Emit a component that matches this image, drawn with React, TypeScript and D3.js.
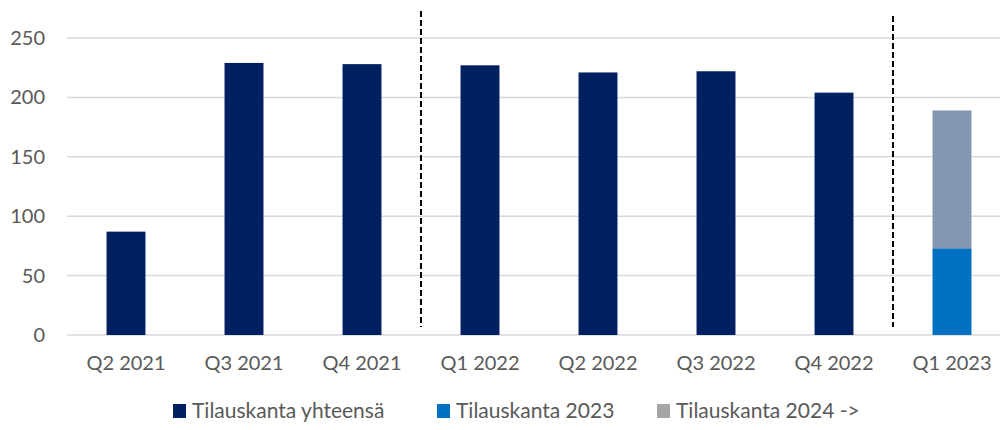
import React from "react";
import * as d3 from "d3";

const categories = ["Q2 2021", "Q3 2021", "Q4 2021", "Q1 2022", "Q2 2022", "Q3 2022", "Q4 2022", "Q1 2023"];
const totalValues = [87, 229, 228, 227, 221, 222, 204, null];
const values2023 = [null, null, null, null, null, null, null, 73];
const values2024 = [null, null, null, null, null, null, null, 116];
const yTicks = [0, 50, 100, 150, 200, 250];
const legendLabels = ["Tilauskanta yhteensä", "Tilauskanta 2023", "Tilauskanta 2024 ->"];
const dividerAfter = ["Q4 2021", "Q4 2022"];

const W = 1000, H = 430;
const FONT = "Lato, 'Open Sans', sans-serif";
const TXT = "#595959";

export default function App() {
  const x = d3.scaleBand<string>().domain(categories).range([67, 1011]).paddingInner(0.67).paddingOuter(0.335);
  const y = d3.scaleLinear().domain([0, 250]).range([335, 38]);
  const bw = x.bandwidth();
  const step = x.step();
  const colors = ["#002060", "#0070C0", "#8497B0"];
  const legendColors = ["#002060", "#0070C0", "#A5A5A5"];
  const legendX = [173, 437, 657];

  return (
    <svg width={W} height={H} style={{ position: "absolute", left: 0, top: 0, background: "#fff" }} fontFamily={FONT}>
      {yTicks.map((t) => (
        <g key={t}>
          <line x1={67} x2={W} y1={y(t)} y2={y(t)} stroke="#d9d9d9" strokeWidth={1.5} />
          <text x={45} y={y(t)} dy="0.35em" textAnchor="end" fontSize={20} fill={TXT}>{t}</text>
        </g>
      ))}
      {categories.map((c, i) => {
        const v = totalValues[i];
        return v == null ? null : (
          <rect key={c} x={x(c)!} width={bw} y={y(v)} height={y(0) - y(v)} fill={colors[0]} />
        );
      })}
      {categories.map((c, i) => {
        const a = values2023[i];
        const b = values2024[i];
        if (a == null) return null;
        return (
          <g key={"s" + c}>
            <rect x={x(c)!} width={bw} y={y(a)} height={y(0) - y(a)} fill={colors[1]} />
            {b != null && <rect x={x(c)!} width={bw} y={y(a + b)} height={y(a) - y(a + b)} fill={colors[2]} />}
          </g>
        );
      })}
      {dividerAfter.map((c, i) => {
        const xx = x(c)! + bw + (step - bw) / 2;
        return (
          <line key={c} x1={xx} x2={xx} y1={i === 0 ? 11 : 16} y2={327} stroke="#000" strokeWidth={2} strokeDasharray="6,3" />
        );
      })}
      {categories.map((c) => (
        <text key={"l" + c} x={x(c)! + bw / 2} y={370} textAnchor="middle" fontSize={20} fill={TXT}>{c}</text>
      ))}
      {legendLabels.map((l, i) => (
        <g key={l}>
          <rect x={legendX[i]} y={404} width={13} height={14} fill={legendColors[i]} />
          <text x={legendX[i] + 19} y={411} dy="0.35em" fontSize={21} fill={TXT}>{l}</text>
        </g>
      ))}
    </svg>
  );
}
